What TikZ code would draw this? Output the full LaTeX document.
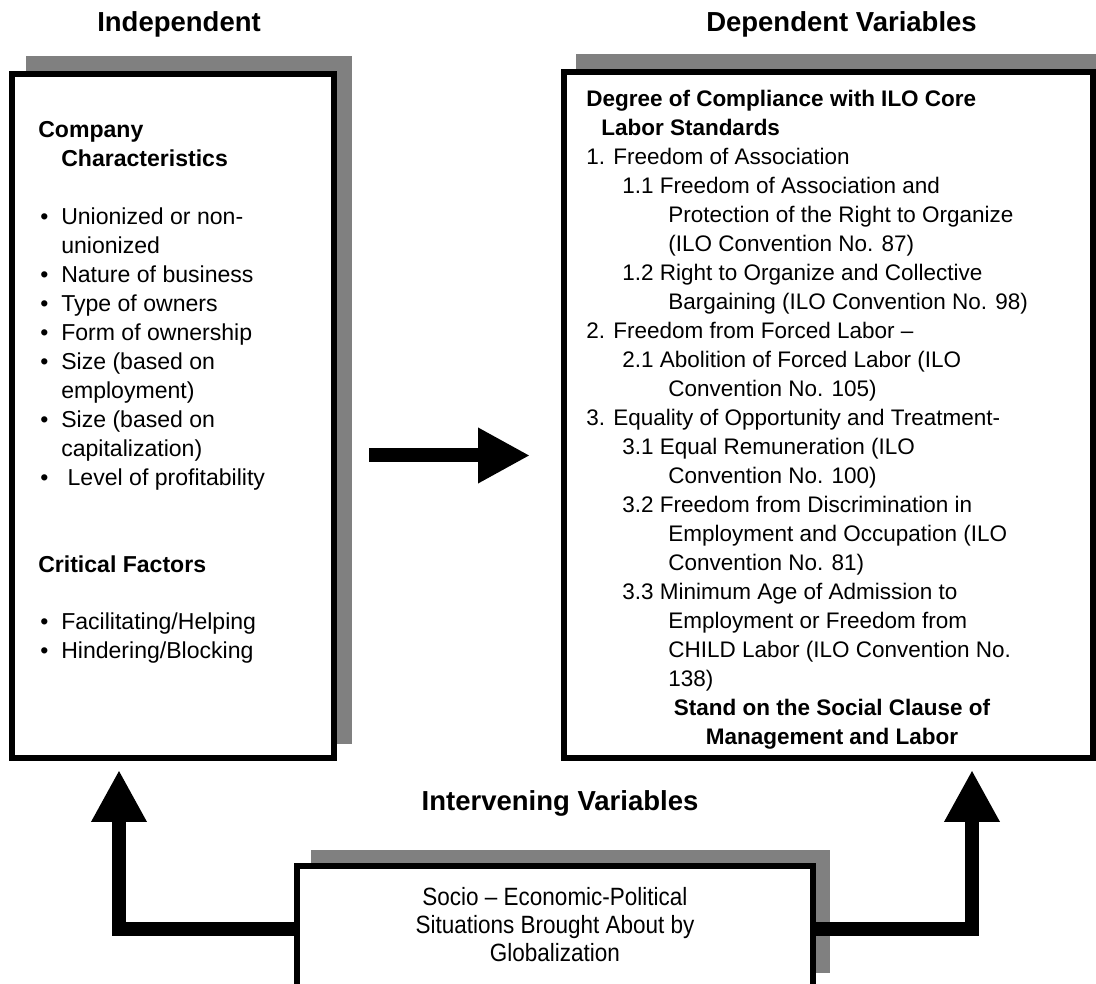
\documentclass[tikz,border=0pt]{standalone}
\usepackage{fontspec}
\setmainfont{Liberation Sans}
\newfontfamily\narrowsans[FakeStretch=0.9]{Liberation Sans}
\usetikzlibrary{arrows.meta}
\definecolor{shadowgray}{RGB}{128,128,128}
\newcommand{\lstbullet}{\makebox[0.525cm][l]{\textbullet}}

\begin{document}
\begin{tikzpicture}[
    framebox/.style={draw=black, fill=white, line width=0.150000cm, inner sep=0pt},
    bigarrow/.style={line width=0.350000cm, line join=miter, -{Triangle[length=1.300000cm,width=1.300000cm]}},
    txt/.style={inner sep=0pt, anchor=base west},
    ltxt/.style={txt, font=\fontsize{16.4}{19.7}\selectfont},
    ctxt/.style={inner sep=0pt, anchor=base},
    headtxt/.style={inner sep=0pt, anchor=base, font=\fontsize{19.56}{23}\selectfont\bfseries}
  ]
            \useasboundingbox (0,0) rectangle (27.400000,24.600000);
            \clip (0,0) rectangle (27.400000,24.600000);
            {\fontsize{16.0}{19.2}\selectfont

            % Headings over the boxes
            \draw (4.475000,23.800000) node [headtxt] (indeptitle) {Independent};%
            \draw (21.037500,23.800000) node [headtxt] (deptitle) {Dependent Variables};%
            \draw (14.000000,4.325000) node [headtxt] (intertitle) {Intervening Variables};%

            % Shadows behind the boxes
            \fill [shadowgray] (0.650000,23.200000) rectangle (8.800000,6.000000);%
            \fill [shadowgray] (14.400000,23.250000) rectangle (27.750000,6.000000);%
            \fill [shadowgray] (7.775000,3.350000) rectangle (20.750000,0.275000);%

            % Boxes
            \node [framebox, minimum width=8.050000cm, minimum height=17.100000cm] (indep) at (4.325000,14.200000) {};%
            \node [framebox, minimum width=13.225000cm, minimum height=17.150000cm] (dep) at (20.712500,14.225000) {};%
            \node [framebox, minimum width=12.900000cm, minimum height=3.175000cm] (socio) at (13.875000,1.362500) {};%

            % Text of box indep
            \draw (0.950000,21.150000) node [ltxt] (company) {\textbf{Company}};%
            \draw (1.525000,20.425000) node [ltxt] (charac) {\textbf{Characteristics}};%
            \draw (1.000000,18.975000) node [ltxt] (c1) {\lstbullet Unionized or non-};%
            \draw (1.525000,18.250000) node [ltxt] (c1b) {unionized};%
            \draw (1.000000,17.525000) node [ltxt] (c2) {\lstbullet Nature of business};%
            \draw (1.000000,16.800000) node [ltxt] (c3) {\lstbullet Type of owners};%
            \draw (1.000000,16.075000) node [ltxt] (c4) {\lstbullet Form of ownership};%
            \draw (1.000000,15.350000) node [ltxt] (c5) {\lstbullet Size (based on};%
            \draw (1.525000,14.625000) node [ltxt] (c5b) {employment)};%
            \draw (1.000000,13.900000) node [ltxt] (c6) {\lstbullet Size (based on};%
            \draw (1.525000,13.175000) node [ltxt] (c6b) {capitalization)};%
            \draw (1.000000,12.450000) node [ltxt] (c7) {\lstbullet\ Level of profitability};%
            \draw (0.950000,10.275000) node [ltxt] (critical) {\textbf{Critical Factors}};%
            \draw (1.000000,8.850000) node [ltxt] (f1) {\lstbullet Facilitating/Helping};%
            \draw (1.000000,8.125000) node [ltxt] (f2) {\lstbullet Hindering/Blocking};%

            % Text of box dep
            \draw (14.650000,21.925000) node [txt] (degree) {\textbf{Degree of Compliance with ILO Core}};%
            \draw (15.025000,21.200000) node [txt] (degreeb) {\textbf{Labor Standards}};%
            \draw (14.650000,20.475000) node [txt] (s1) {1. Freedom of Association};%
            \draw (15.550000,19.750000) node [txt] (s11) {1.1 Freedom of Association and};%
            \draw (16.700000,19.025000) node [txt] (s11b) {Protection of the Right to Organize};%
            \draw (16.700000,18.300000) node [txt] (s11c) {(ILO Convention No. 87)};%
            \draw (15.550000,17.575000) node [txt] (s12) {1.2 Right to Organize and Collective};%
            \draw (16.700000,16.850000) node [txt] (s12b) {Bargaining (ILO Convention No. 98)};%
            \draw (14.650000,16.125000) node [txt] (s2) {2. Freedom from Forced Labor –};%
            \draw (15.550000,15.400000) node [txt] (s21) {2.1 Abolition of Forced Labor (ILO};%
            \draw (16.700000,14.675000) node [txt] (s21b) {Convention No. 105)};%
            \draw (14.650000,13.950000) node [txt] (s3) {3. Equality of Opportunity and Treatment-};%
            \draw (15.550000,13.225000) node [txt] (s31) {3.1 Equal Remuneration (ILO};%
            \draw (16.700000,12.500000) node [txt] (s31b) {Convention No. 100)};%
            \draw (15.550000,11.775000) node [txt] (s32) {3.2 Freedom from Discrimination in};%
            \draw (16.700000,11.050000) node [txt] (s32b) {Employment and Occupation (ILO};%
            \draw (16.700000,10.325000) node [txt] (s32c) {Convention No. 81)};%
            \draw (15.550000,9.600000) node [txt] (s33) {3.3 Minimum Age of Admission to};%
            \draw (16.700000,8.875000) node [txt] (s33b) {Employment or Freedom from};%
            \draw (16.700000,8.150000) node [txt] (s33c) {CHILD Labor (ILO Convention No.};%
            \draw (16.700000,7.425000) node [txt] (s33d) {138)};%
            \draw (20.800000,6.700000) node [ctxt] (stand) {\textbf{Stand on the Social Clause of}};%
            \draw (20.800000,5.975000) node [ctxt] (standb) {\textbf{Management and Labor}};%

            % Text of box socio
            \draw (13.875000,1.950000) node [ctxt, font=\narrowsans\fontsize{17.78}{21}\selectfont] (socio1) {Socio – Economic-Political};%
            \draw (13.875000,1.250000) node [ctxt, font=\narrowsans\fontsize{17.78}{21}\selectfont] (socio2) {Situations Brought About by};%
            \draw (13.875000,0.550000) node [ctxt, font=\narrowsans\fontsize{17.78}{21}\selectfont] (socio3) {Globalization};%

            % Arrow from indep to dep
            \coordinate (midstart) at (9.225000,13.212500);%
            \coordinate (midend) at (13.250000,13.212500);%
            \draw [bigarrow] (midstart) -- (midend);%

            % Arrows from socio up to the boxes
            \coordinate (tipL) at (2.975000,5.350000);%
            \coordinate (tipR) at (24.300000,5.350000);%
            \draw [bigarrow] (socio.west) -| (tipL);%
            \draw [bigarrow] (socio.east) -| (tipR);%
            }
\end{tikzpicture}
\end{document}
